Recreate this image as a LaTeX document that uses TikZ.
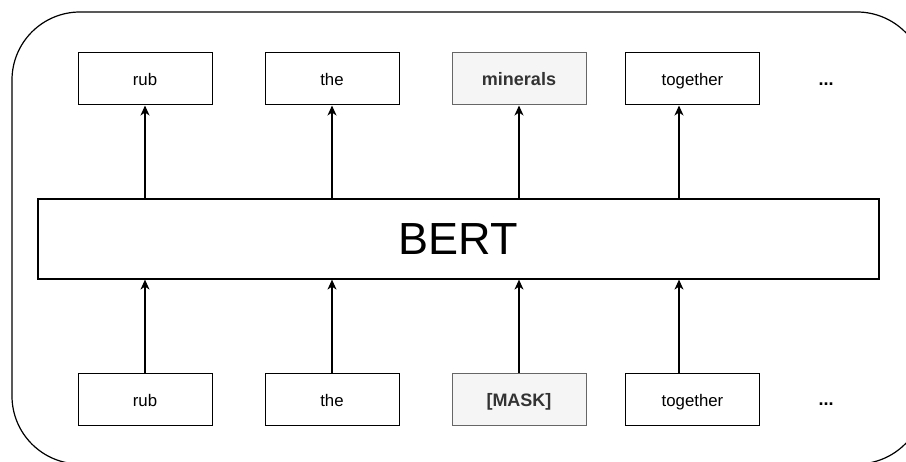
\documentclass[tikz,border=0pt]{standalone}
\usepackage{fontspec}
\setmainfont{Liberation Sans}
\usetikzlibrary{arrows.meta}
\definecolor{maskfill}{HTML}{F5F5F5}
\definecolor{maskline}{HTML}{666666}
\definecolor{masktext}{HTML}{333333}
\tikzset{
  tok/.style={draw=black, line width=1pt, minimum width=134pt, minimum height=52pt,
              inner sep=0pt, text height=15pt, text depth=1pt,
              font=\fontsize{16.8}{18}\selectfont},
  masked/.style={tok, fill=maskfill, draw=maskline, text=masktext,
                 font=\fontsize{18}{19}\selectfont\bfseries},
  model/.style={draw=black, line width=1.2pt, minimum width=841pt, minimum height=80pt,
                inner sep=0pt, font=\fontsize{45}{48}\selectfont},
  dots/.style={font=\fontsize{18}{20}\selectfont\bfseries, inner sep=0pt},
  arr/.style={line width=1.2pt, -{Stealth[length=10pt,width=9pt,inset=3pt]}},
  frame/.style={draw=black, line width=1.2pt, rounded corners=68pt}
}
\begin{document}
\begin{tikzpicture}[x=1pt,y=-1pt]
  \useasboundingbox (0,0) rectangle (906,462);
  \clip (0,0) rectangle (906,462);
  % enclosing frame (runs past the page edge on the right and bottom)
  \draw[frame] (12,12) rectangle (925,464);

  % central model
  \node[model] (bert) at (458.5,239) {BERT};

  % predicted tokens
  \node[tok]    (t1) at (145,79)   {rub};
  \node[tok]    (t2) at (332,79)   {the};
  \node[masked] (t3) at (519,79)   {minerals};
  \node[tok]    (t4) at (692.5,79) {together};
  \node[dots]   (t5) at (826,84)   {...};

  % input tokens
  \node[tok]    (b1) at (145,399.5)   {rub};
  \node[tok]    (b2) at (332,399.5)   {the};
  \node[masked] (b3) at (519,399.5)   {[MASK]};
  \node[tok]    (b4) at (692.5,399.5) {together};
  \node[dots]   (b5) at (826,404)     {...};

  % connectors into and out of the model
  \coordinate (c4) at (679,239);
  \draw[arr] (bert.north -| t1.south) -- (t1.south);
  \draw[arr] (bert.north -| t2.south) -- (t2.south);
  \draw[arr] (bert.north -| t3.south) -- (t3.south);
  \draw[arr] (bert.north -| c4) -- (t4.south -| c4);
  \draw[arr] (b1.north) -- (bert.south -| b1.north);
  \draw[arr] (b2.north) -- (bert.south -| b2.north);
  \draw[arr] (b3.north) -- (bert.south -| b3.north);
  \draw[arr] (b4.north -| c4) -- (bert.south -| c4);
\end{tikzpicture}
\end{document}
